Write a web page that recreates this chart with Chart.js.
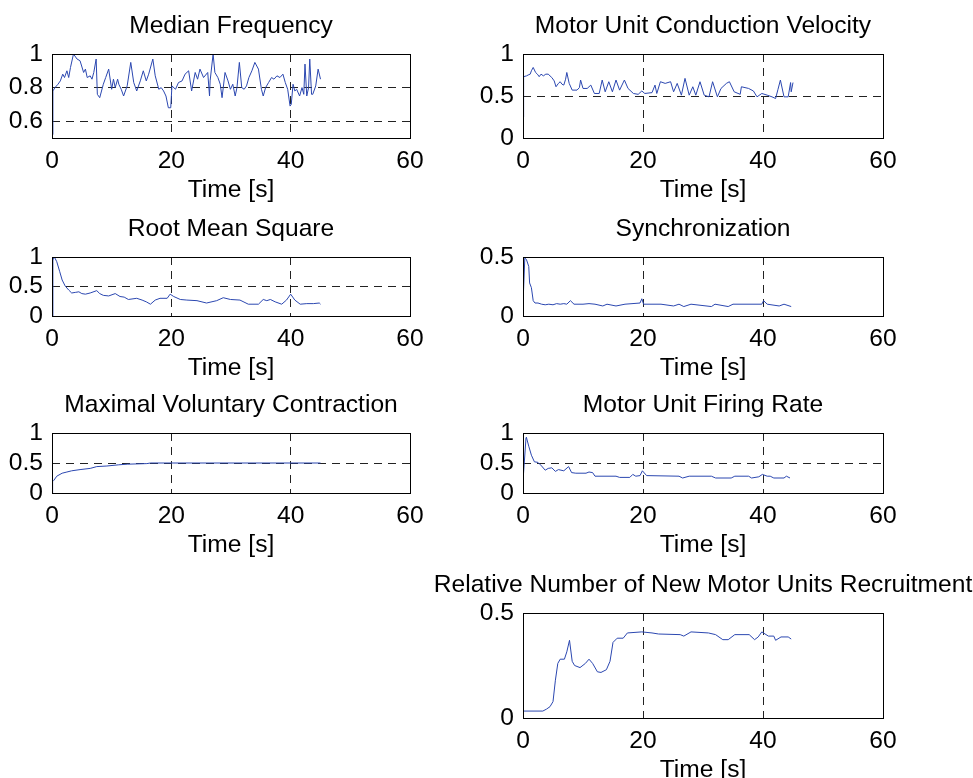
<!DOCTYPE html>
<html>
<head>
<meta charset="utf-8">
<title>Fatigue indicators</title>
<script src="https://cdn.jsdelivr.net/npm/chart.js@4.4.1/dist/chart.umd.min.js"></script>
<style>
    html, body { margin: 0; padding: 0; background: #fff; overflow: hidden; }
    canvas { position: absolute; }
</style>
</head>
<body>
<canvas id="mf"></canvas>
<canvas id="cv"></canvas>
<canvas id="rms"></canvas>
<canvas id="sync"></canvas>
<canvas id="mvc"></canvas>
<canvas id="fr"></canvas>
<canvas id="rec"></canvas>
<script>
'use strict'

/**
 * Data
 */

const timeTicks = [0, 20, 40, 60];
const tickUnit = [0, 0.5, 1];
const tickHalf = [0, 0.5];
const tickMf = [0.6, 0.8, 1];

const mfTime = [0, 0.15, 0.5, 1.0, 1.4, 1.8, 2.1, 2.5, 2.8, 3.1, 3.6, 4.2, 4.7, 5.3, 5.6, 5.9, 6.4, 6.7, 7.0, 7.4,
    7.6, 8.0, 8.6, 9.0, 9.5, 10.0, 10.3, 10.6, 11.0, 11.2, 11.6, 12.0, 12.6, 13.2, 13.7, 14.2, 14.8, 15.3, 15.8, 16.2,
    16.9, 17.3, 17.9, 18.3, 18.7, 19.1, 19.5, 19.9, 20.1, 20.7, 21.2, 21.8, 22.3, 22.9, 23.4, 24.0, 24.4, 24.8, 25.4, 26.1,
    26.4, 26.5, 27.0, 27.3, 27.8, 28.2, 28.5, 29.0, 29.5, 29.9, 30.3, 30.7, 31.0, 31.4, 31.8, 32.2, 32.6, 33.0, 33.5, 34.0,
    34.6, 35.1, 35.4, 35.8, 36.3, 36.8, 37.2, 37.7, 38.2, 38.7, 39.1, 39.5, 39.9, 40.1, 40.4, 40.7, 41.0, 41.5, 41.9, 42.2,
    42.4, 42.7, 43.0, 43.2, 43.5, 43.7, 44.2, 44.6, 45.0];
const mfValues = [0.52, 0.78, 0.80, 0.82, 0.84, 0.88, 0.86, 0.90, 0.86, 0.92, 1.0, 0.97, 0.96, 0.89, 0.91, 0.86, 0.87, 0.85, 0.89, 0.97,
    0.76, 0.74, 0.82, 0.86, 0.91, 0.79, 0.85, 0.80, 0.85, 0.82, 0.79, 0.75, 0.81, 0.95, 0.83, 0.78, 0.84, 0.90, 0.84, 0.88,
    0.97, 0.87, 0.79, 0.80, 0.78, 0.75, 0.68, 0.68, 0.81, 0.79, 0.83, 0.84, 0.88, 0.90, 0.78, 0.89, 0.85, 0.91, 0.86, 0.89,
    0.75, 0.84, 1.0, 0.89, 0.86, 0.82, 0.74, 0.89, 0.84, 0.79, 0.82, 0.75, 0.80, 0.95, 0.80, 0.79, 0.81, 0.86, 0.90, 0.95,
    0.91, 0.79, 0.75, 0.80, 0.83, 0.86, 0.85, 0.87, 0.86, 0.88, 0.83, 0.79, 0.69, 0.70, 0.82, 0.78, 0.79, 0.75, 0.80, 0.76,
    0.94, 0.75, 0.80, 0.97, 0.76, 0.76, 0.81, 0.91, 0.85];

const cvTime = [0, 0.1, 0.6, 0.85, 1.2, 1.4, 1.7, 2.1, 2.4, 2.7, 3.0, 3.4, 3.8, 4.2, 4.8, 5.2, 5.5, 5.9, 6.2, 6.5,
    6.8, 7.1, 7.3, 7.7, 8.2, 9.0, 9.4, 9.6, 10.0, 10.7, 11.3, 11.9, 12.7, 13.2, 13.7, 14.3, 14.9, 15.5, 16.1, 16.9,
    17.5, 18.4, 19.2, 19.8, 20.3, 21.5, 22.0, 22.3, 22.9, 23.7, 24.6, 25.1, 25.7, 26.4, 27.0, 27.7, 28.3, 28.8, 29.5, 30.2,
    31.0, 31.6, 32.4, 33.0, 33.9, 34.4, 35.2, 36.2, 36.4, 37.6, 38.4, 39.0, 39.8, 40.7, 41.5, 42.1, 42.5, 42.9, 43.5, 44.2,
    44.6, 44.7, 45.0];
const cvValues = [0.25, 0.73, 0.74, 0.75, 0.76, 0.80, 0.84, 0.78, 0.76, 0.73, 0.76, 0.74, 0.76, 0.76, 0.72, 0.68, 0.61, 0.65, 0.67, 0.64,
    0.63, 0.70, 0.78, 0.65, 0.57, 0.57, 0.60, 0.69, 0.59, 0.59, 0.63, 0.53, 0.53, 0.69, 0.55, 0.67, 0.55, 0.69, 0.57, 0.69,
    0.59, 0.53, 0.52, 0.56, 0.53, 0.54, 0.63, 0.53, 0.67, 0.65, 0.67, 0.55, 0.65, 0.51, 0.71, 0.51, 0.61, 0.51, 0.67, 0.51,
    0.49, 0.67, 0.49, 0.59, 0.65, 0.67, 0.55, 0.52, 0.61, 0.59, 0.56, 0.49, 0.53, 0.51, 0.49, 0.47, 0.58, 0.69, 0.49, 0.49,
    0.66, 0.55, 0.66];

const rmsTime = [0, 0.15, 0.4, 0.8, 1.3, 1.7, 2.2, 2.8, 3.3, 3.9, 4.5, 5.0, 5.6, 6.4, 7.5, 8.0, 8.6, 9.5, 10.6, 11.4,
    12.1, 12.8, 14.2, 15.1, 15.8, 16.5, 17.3, 18.1, 19.3, 19.8, 20.4, 21.5, 22.6, 24.3, 25.9, 27.6, 28.7, 29.9, 31.5, 32.9,
    34.6, 35.4, 36.0, 36.6, 37.4, 38.5, 39.3, 40.0, 40.7, 41.6, 42.7, 43.8, 44.8, 45.0];
const rmsValues = [0.0, 0.95, 1.0, 0.92, 0.75, 0.61, 0.51, 0.44, 0.39, 0.40, 0.41, 0.38, 0.37, 0.39, 0.43, 0.38, 0.35, 0.34, 0.38, 0.33,
    0.32, 0.28, 0.30, 0.27, 0.24, 0.20, 0.27, 0.30, 0.30, 0.37, 0.33, 0.28, 0.27, 0.26, 0.22, 0.26, 0.31, 0.28, 0.27, 0.20,
    0.20, 0.28, 0.26, 0.28, 0.24, 0.20, 0.27, 0.37, 0.27, 0.20, 0.21, 0.21, 0.22, 0.20];

const syncTime = [0, 0.3, 0.56, 0.96, 1.1, 1.4, 1.7, 2.0, 2.5, 3.1, 3.7, 4.3, 5.0, 5.6, 6.2, 6.8, 7.3, 7.9, 8.5, 10.0,
    11.0, 12.0, 13.3, 14.0, 15.5, 16.5, 17.0, 19.5, 19.8, 20.1, 23.0, 25.1, 26.0, 26.8, 28.0, 31.4, 32.0, 34.2, 35.0, 39.8,
    40.1, 40.7, 42.7, 43.5, 44.7];
const syncValues = [0.10, 0.49, 0.48, 0.42, 0.28, 0.24, 0.13, 0.11, 0.11, 0.10, 0.095, 0.10, 0.095, 0.105, 0.10, 0.105, 0.10, 0.13, 0.10, 0.10,
    0.105, 0.10, 0.085, 0.10, 0.085, 0.095, 0.10, 0.11, 0.146, 0.10, 0.10, 0.085, 0.10, 0.08, 0.10, 0.08, 0.10, 0.08, 0.10, 0.10,
    0.13, 0.10, 0.085, 0.10, 0.08];

const mvcTime = [0, 0.1, 0.3, 0.8, 1.7, 2.5, 3.3, 4.7, 6.4, 7.5, 9.2, 11.2, 12.6, 15.9, 16.5, 45.0];
const mvcValues = [0.0, 0.19, 0.21, 0.28, 0.33, 0.35, 0.37, 0.39, 0.41, 0.44, 0.45, 0.47, 0.48, 0.49, 0.50, 0.50];

const frTime = [0, 0.5, 0.56, 0.96, 1.4, 1.9, 2.5, 3.1, 3.7, 4.2, 4.8, 5.4, 5.9, 6.8, 7.6, 8.1, 8.8, 10.5, 11.0, 11.6,
    12.0, 15.5, 16.1, 17.8, 18.3, 18.8, 19.5, 19.9, 20.6, 26.0, 26.6, 27.7, 31.4, 32.1, 34.7, 35.3, 37.6, 38.1, 39.3, 39.9,
    40.7, 41.2, 41.8, 43.5, 43.9, 44.5];
const frValues = [0.20, 0.92, 0.93, 0.78, 0.63, 0.52, 0.51, 0.45, 0.38, 0.41, 0.42, 0.36, 0.39, 0.37, 0.44, 0.34, 0.33, 0.33, 0.35, 0.34,
    0.28, 0.28, 0.26, 0.26, 0.31, 0.28, 0.29, 0.37, 0.29, 0.28, 0.25, 0.28, 0.28, 0.25, 0.25, 0.28, 0.28, 0.25, 0.27, 0.31,
    0.28, 0.28, 0.25, 0.25, 0.28, 0.25];

const recTime = [0, 3.3, 3.9, 4.5, 5.0, 5.4, 5.8, 6.2, 6.9, 7.3, 7.75, 8.2, 8.6, 9.5, 10.4, 11.0, 11.6, 12.4, 13.0, 13.9,
    14.5, 15.0, 15.7, 16.7, 17.4, 19.8, 21.5, 22.6, 26.2, 26.8, 28.0, 30.9, 32.1, 33.3, 34.2, 35.3, 37.7, 38.6, 39.2, 39.8,
    40.9, 41.8, 42.1, 43.0, 44.2, 44.7];
const recValues = [0.033, 0.033, 0.042, 0.054, 0.078, 0.18, 0.26, 0.28, 0.28, 0.315, 0.37, 0.27, 0.25, 0.24, 0.26, 0.28, 0.26, 0.22, 0.217, 0.23,
    0.27, 0.36, 0.38, 0.38, 0.405, 0.41, 0.405, 0.40, 0.397, 0.39, 0.41, 0.405, 0.397, 0.373, 0.373, 0.397, 0.397, 0.373, 0.386, 0.41,
    0.39, 0.39, 0.37, 0.386, 0.386, 0.376];

/**
 * Layout
 */

const LEFT_COL = 52, RIGHT_COL = 523;
const margin = { left: 100, right: 100, top: 50, bottom: 70 };
const lineColor = '#2b47b0';
const FONT_SIZE = 24.6;

Chart.defaults.font.family = '"Liberation Sans", Arial, Helvetica, sans-serif';
Chart.defaults.font.size = FONT_SIZE;
Chart.defaults.color = '#000';

const panels = [
    { id: 'mf', title: 'Median Frequency', t: mfTime, v: mfValues, y: [0.5, 1], ticks: tickMf, box: [LEFT_COL, 54, 358, 84] },
    { id: 'cv', title: 'Motor Unit Conduction Velocity', t: cvTime, v: cvValues, y: [0, 1], ticks: tickUnit, box: [RIGHT_COL, 54, 360, 84] },
    { id: 'rms', title: 'Root Mean Square', t: rmsTime, v: rmsValues, y: [0, 1], ticks: tickUnit, box: [LEFT_COL, 257, 358, 59] },
    { id: 'sync', title: 'Synchronization', t: syncTime, v: syncValues, y: [0, 0.5], ticks: tickHalf, box: [RIGHT_COL, 257, 360, 59] },
    { id: 'mvc', title: 'Maximal Voluntary Contraction', t: mvcTime, v: mvcValues, y: [0, 1], ticks: tickUnit, box: [LEFT_COL, 433, 358, 60] },
    { id: 'fr', title: 'Motor Unit Firing Rate', t: frTime, v: frValues, y: [0, 1], ticks: tickUnit, box: [RIGHT_COL, 433, 360, 60] },
    { id: 'rec', title: 'Relative Number of New Motor Units Recruitment', t: recTime, v: recValues, y: [0, 0.5], ticks: tickHalf, box: [RIGHT_COL, 613, 360, 105] }
];

// box round the axes + title above it
const framePlugin = {
    id: 'frame',
    afterDatasetsDraw(chart) {
        const { ctx, chartArea: a } = chart;
        ctx.save();
        ctx.strokeStyle = '#000';
        ctx.lineWidth = 1;
        ctx.setLineDash([]);
        ctx.strokeRect(Math.round(a.left) + 0.5, Math.round(a.top) + 0.5,
            Math.round(a.right - a.left), Math.round(a.bottom - a.top));
        ctx.restore();
    },
    afterDraw(chart, args, opts) {
        const { ctx, chartArea: a } = chart;
        ctx.save();
        ctx.font = FONT_SIZE + 'px ' + Chart.defaults.font.family;
        ctx.fillStyle = '#000';
        ctx.textAlign = 'center';
        ctx.textBaseline = 'alphabetic';
        ctx.fillText(opts.text, (a.left + a.right) / 2, a.top - 21);
        ctx.restore();
    }
};

// dashed grid only inside the box, the frame covers the edges
function gridOpts() {
    return {
        color: c => (c.tick && (c.tick.value === c.scale.min || c.tick.value === c.scale.max)) ? 'rgba(0,0,0,0)' : '#222',
        lineWidth: 1,
        drawTicks: false
    };
}

panels.forEach(function (p) {
    const [x, y, w, h] = p.box;
    const canvas = document.getElementById(p.id);
    canvas.width = w + margin.left + margin.right;
    canvas.height = h + margin.top + margin.bottom;
    canvas.style.left = (x - margin.left) + 'px';
    canvas.style.top = (y - margin.top) + 'px';

    new Chart(canvas, {
        type: 'line',
        data: {
            datasets: [{
                data: p.t.map((t, i) => ({ x: t, y: p.v[i] })),
                borderColor: lineColor,
                borderWidth: 1,
                pointRadius: 0,
                tension: 0,
                fill: false
            }]
        },
        options: {
            responsive: false,
            animation: false,
            events: [],
            layout: { padding: { left: margin.left - 60, right: margin.right, top: margin.top, bottom: 0 } },
            plugins: {
                legend: { display: false },
                tooltip: { enabled: false },
                frame: { text: p.title }
            },
            scales: {
                x: {
                    type: 'linear',
                    min: 0,
                    max: 60,
                    afterBuildTicks: s => { s.ticks = timeTicks.map(v => ({ value: v })); },
                    afterFit: s => { s.height = margin.bottom; },
                    ticks: { padding: 8, maxRotation: 0, autoSkip: false },
                    grid: gridOpts(),
                    border: { display: false, dash: [8, 6] },
                    title: { display: true, text: 'Time [s]', padding: { top: 0, bottom: 3 } }
                },
                y: {
                    type: 'linear',
                    min: p.y[0],
                    max: p.y[1],
                    afterBuildTicks: s => { s.ticks = p.ticks.map(v => ({ value: v })); },
                    afterFit: s => { s.width = 60; },
                    ticks: { padding: 9, autoSkip: false, callback: v => String(v) },
                    grid: gridOpts(),
                    border: { display: false, dash: [8, 6] }
                }
            }
        },
        plugins: [framePlugin]
    });
});
</script>
</body>
</html>
